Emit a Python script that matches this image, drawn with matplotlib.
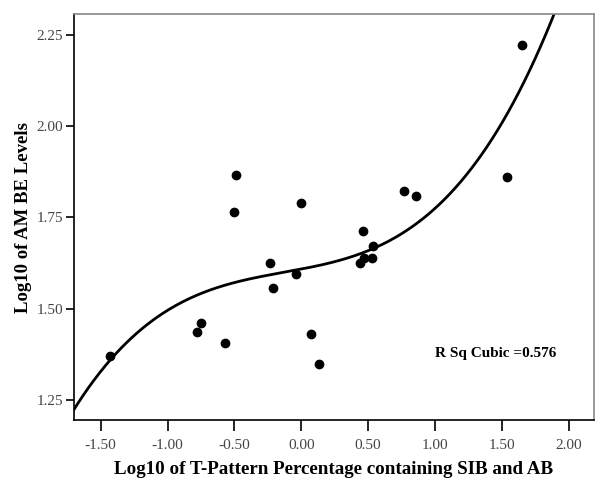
import numpy as np
import matplotlib.pyplot as plt

plt.rcParams['font.family'] = ['Liberation Serif', 'DejaVu Serif']

# Datos
x_vals = [-1.43, -0.78, -0.75, -0.57, -0.49, -0.50, -0.23, -0.21, -0.04,
          0.00, 0.07, 0.13, 0.46, 0.54, 0.44, 0.47, 0.53, 0.77, 0.86, 1.54, 1.65]
y_vals = [1.37, 1.436, 1.461, 1.406, 1.866, 1.765, 1.625, 1.557, 1.596,
          1.790, 1.430, 1.349, 1.713, 1.671, 1.626, 1.638, 1.638, 1.823, 1.809,
          1.861, 2.223]
r_sq_text = 'R Sq Cubic =0.576'

x = np.array(x_vals)
y = np.array(y_vals)

# Ajuste cubico
coef = np.polyfit(x, y, 3)
xs = np.linspace(-1.75, 2.25, 400)
ys = np.polyval(coef, xs)

fig = plt.figure(figsize=(6, 4.88), dpi=100)
ax = fig.add_axes([0.1233, 0.1393, 0.8667, 0.832])

ax.plot(xs, ys, color='black', lw=2)
ax.scatter(x, y, s=36, color='black', zorder=3)

ax.set_xlim(-1.70, 2.19)
ax.set_ylim(1.195, 2.3075)
ax.set_xticks([-1.5, -1.0, -0.5, 0.0, 0.5, 1.0, 1.5, 2.0])
ax.set_yticks([1.25, 1.50, 1.75, 2.00, 2.25])
ax.xaxis.set_major_formatter(plt.FormatStrFormatter('%.2f'))
ax.yaxis.set_major_formatter(plt.FormatStrFormatter('%.2f'))
ax.tick_params(direction='out', width=1.2, labelsize=11,
               labelcolor='#444444', color='black')
ax.tick_params(axis='x', length=8, pad=6)
ax.tick_params(axis='y', length=6, pad=2)

for s in ['top', 'right']:
    ax.spines[s].set_color('#888888')
    ax.spines[s].set_linewidth(1.2)
for s in ['left', 'bottom']:
    ax.spines[s].set_color('black')
    ax.spines[s].set_linewidth(1.2)

ax.text(1.0, 1.376, r_sq_text, fontsize=11, fontweight='bold', ha='left', va='center')

ax.set_xlabel('Log10 of T-Pattern Percentage containing SIB and AB',
              fontsize=13.7, fontweight='bold', labelpad=6)
ax.set_ylabel('Log10 of AM BE Levels', fontsize=13.5, fontweight='bold', labelpad=3)

fig.savefig('out.png', dpi=100)
